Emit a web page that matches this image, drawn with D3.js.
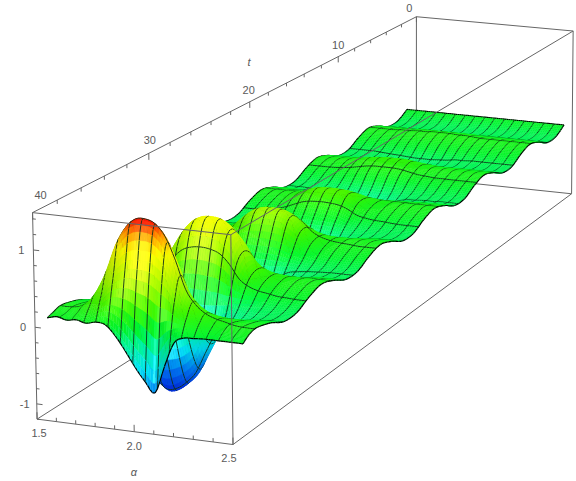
<!DOCTYPE html>
<html><head><meta charset="utf-8">
<script src="https://cdnjs.cloudflare.com/ajax/libs/d3/7.8.5/d3.min.js"></script>
<style>html,body{margin:0;padding:0;background:#fff}svg{display:block}text{font-family:"Liberation Sans",Arial,sans-serif;font-size:11px;fill:#5a5a5a}</style>
</head><body><svg id="c" width="576" height="481"></svg>
<script>
const alphaValues=[1.5,1.55,1.6,1.65,1.7,1.75,1.8,1.85,1.9,1.95,2,2.05,2.1,2.15,2.2,2.25,2.3,2.35,2.4,2.45,2.5];
const tValues=[1.26,2.51,3.77,5.03,6.28,7.54,8.8,10.05,11.31,12.57,13.82,15.08,16.34,17.59,18.85,20.11,21.36,22.62,23.88,25.13,26.39,27.65,28.9,30.16,31.42,32.67,33.93,35.19,36.44,37.8,38.5,39];
const surfaceValues=[
[.03,.03,.03,.03,.03,.03,.03,.03,.03,.03,.03,.03,.03,.03,.03,.03,.03,.03,.03,.03,.03],
[-.07,-.07,-.07,-.07,-.07,-.07,-.08,-.08,-.08,-.08,-.08,-.08,-.07,-.07,-.07,-.07,-.07,-.07,-.07,-.07,-.07],
[-.07,-.07,-.07,-.07,-.07,-.07,-.08,-.08,-.08,-.08,-.08,-.08,-.07,-.07,-.07,-.07,-.07,-.07,-.07,-.07,-.07],
[.03,.03,.03,.03,.03,.03,.04,.04,.04,.04,.04,.04,.04,.03,.03,.03,.03,.03,.03,.03,.03],
[.09,.09,.09,.09,.1,.1,.11,.11,.12,.12,.12,.11,.11,.1,.09,.09,.09,.09,.09,.09,.09],
[.03,.03,.03,.03,.03,.03,.04,.04,.04,.04,.04,.04,.04,.03,.03,.03,.03,.03,.03,.03,.03],
[-.07,-.07,-.07,-.07,-.08,-.09,-.1,-.11,-.12,-.12,-.12,-.11,-.1,-.08,-.08,-.07,-.07,-.07,-.07,-.07,-.07],
[-.07,-.07,-.07,-.07,-.08,-.09,-.11,-.12,-.13,-.135,-.13,-.12,-.1,-.09,-.08,-.08,-.07,-.07,-.07,-.07,-.07],
[.03,.03,.03,.03,.04,.04,.05,.05,.06,.06,.06,.05,.05,.04,.03,.03,.03,.03,.03,.03,.03],
[.09,.09,.09,.1,.11,.13,.16,.18,.19,.19,.19,.18,.15,.12,.11,.1,.1,.09,.09,.09,.09],
[.03,.03,.03,.03,.04,.05,.07,.09,.1,.1,.1,.09,.07,.05,.04,.03,.03,.03,.03,.03,.03],
[-.07,-.07,-.07,-.08,-.09,-.1,-.12,-.14,-.15,-.15,-.15,-.14,-.12,-.1,-.08,-.08,-.07,-.07,-.07,-.07,-.07],
[-.07,-.07,-.07,-.08,-.11,-.15,-.19,-.23,-.25,-.25,-.25,-.23,-.19,-.13,-.1,-.09,-.08,-.08,-.07,-.07,-.07],
[.03,.03,.03,.02,.01,-.02,-.04,-.07,-.08,-.08,-.08,-.07,-.04,-.01,.01,.02,.02,.03,.03,.03,.03],
[.09,.09,.09,.1,.11,.14,.16,.19,.2,.2,.2,.19,.16,.13,.11,.1,.1,.09,.09,.09,.09],
[.03,.03,.04,.05,.09,.14,.21,.27,.29,.3,.29,.27,.21,.12,.08,.06,.05,.04,.03,.03,.03],
[-.07,-.07,-.07,-.06,-.05,-.03,-.01,.01,.02,.02,.02,.01,-.01,-.04,-.05,-.06,-.06,-.07,-.07,-.07,-.07],
[-.07,-.07,-.08,-.09,-.13,-.18,-.25,-.3,-.32,-.33,-.32,-.3,-.24,-.16,-.12,-.1,-.09,-.08,-.07,-.07,-.07],
[.03,.03,.02,0,-.04,-.11,-.19,-.26,-.29,-.3,-.29,-.26,-.19,-.08,-.03,0,.01,.02,.03,.03,.03],
[.09,.09,.1,.11,.14,.19,.25,.29,.32,.32,.32,.29,.24,.17,.13,.11,.1,.1,.09,.09,.09],
[.03,.03,.04,.07,.14,.24,.36,.46,.51,.52,.51,.46,.35,.2,.12,.08,.06,.04,.03,.03,.03],
[-.07,-.07,-.07,-.07,-.07,-.06,-.06,-.05,-.05,-.05,-.05,-.05,-.06,-.06,-.07,-.07,-.07,-.07,-.07,-.07,-.07],
[-.07,-.07,-.08,-.11,-.18,-.27,-.4,-.49,-.54,-.55,-.54,-.49,-.39,-.23,-.16,-.12,-.1,-.08,-.07,-.07,-.07],
[.03,.03,.02,0,-.04,-.11,-.19,-.26,-.29,-.3,-.29,-.26,-.19,-.08,-.03,0,.01,.02,.03,.03,.03],
[.09,.09,.1,.14,.23,.35,.52,.64,.71,.72,.71,.64,.51,.3,.2,.15,.13,.11,.1,.09,.09],
[.03,.03,.05,.09,.2,.35,.55,.71,.78,.8,.78,.71,.54,.29,.17,.11,.08,.05,.04,.03,.03],
[-.07,-.07,-.08,-.1,-.15,-.23,-.33,-.4,-.44,-.45,-.44,-.4,-.32,-.2,-.14,-.11,-.09,-.08,-.07,-.07,-.07],
[-.07,-.07,-.09,-.15,-.3,-.55,-.85,-1.08,-1.18,-1.15,-1.05,-.9,-.62,-.36,-.24,-.17,-.13,-.1,-.08,-.07,-.07],
[.03,.03,.03,.01,-.02,-.07,-.13,-.17,-.2,-.2,-.2,-.17,-.12,-.05,-.01,.01,.02,.02,.03,.03,.03],
[.09,.09,.11,.19,.36,.63,.98,1.2,1.31,1.32,1.27,1.12,.84,.49,.31,.21,.16,.13,.1,.09,.09],
[.06,.06,.07,.12,.21,.35,.55,.68,.74,.74,.72,.63,.48,.27,.18,.13,.1,.08,.07,.06,.06],
[.03,.06,.03,.05,.02,.05,.03,-.1,-.28,-.48,-.65,-.78,-.42,-.1,-.02,-.01,0,0,0,0,0]
];
const alphaTicks=[1.5,1.6,1.7,1.8,1.9,2,2.1,2.2,2.3,2.4,2.5];
const alphaLabels=["1.5","2.0","2.5"];
const tTicks=[0,2,4,6,8,10,12,14,16,18,20,22,24,26,28,30,32,34,36,38,40];
const tLabels=["0","10","20","30","40"];
const zTicks=[-1.2,-1,-.8,-.6,-.4,-.2,0,.2,.4,.6,.8,1,1.2,1.4];
const zLabels=["-1","0","1"];

const ax=d3.scaleLinear([1.5,2.5],[0,1]),ay=d3.scaleLinear([0,40],[0,1]),az=d3.scaleLinear([-1.2,1.48],[0,1]);
const anchors=[[0,0,0,416,178],[1,0,0,572,193],[0,1,0,38,419],[1,1,0,232,445],[0,0,1,416.5,16],[1,0,1,573,32],[0,1,1,32,213],[1,1,1,231.5,234]];
function solveCamera(){
  const A=[],b=[];
  anchors.forEach(([X,Y,Z,u,v])=>{A.push([X,Y,Z,1,0,0,0,0,-u*X,-u*Y,-u*Z]);b.push(u);A.push([0,0,0,0,X,Y,Z,1,-v*X,-v*Y,-v*Z]);b.push(v);});
  const n=11,M=d3.range(n).map(i=>d3.range(n+1).map(j=>j<n?d3.sum(A,r=>r[i]*r[j]):d3.sum(A,(r,k)=>r[i]*b[k])));
  for(let c=0;c<n;c++){let p=c;for(let r=c+1;r<n;r++)if(Math.abs(M[r][c])>Math.abs(M[p][c]))p=r;[M[c],M[p]]=[M[p],M[c]];
    for(let r=0;r<n;r++)if(r!==c){const f=M[r][c]/M[c][c];for(let j=c;j<=n;j++)M[r][j]-=f*M[c][j];}}
  return M.map((r,i)=>r[n]/r[i]);
}
const P=solveCamera();
function proj(a,t,z){const X=ax(a),Y=ay(t),Z=az(z),w=P[8]*X+P[9]*Y+P[10]*Z+1;return[(P[0]*X+P[1]*Y+P[2]*Z+P[3])/w,(P[4]*X+P[5]*Y+P[6]*Z+P[7])/w];}
function cr(p0,p1,p2,p3,s){return .5*(2*p1+(p2-p0)*s+(2*p0-5*p1+4*p2-p3)*s*s+(3*p1-p0-3*p2+p3)*s*s*s);}
function upsample(arr,k){const out=[],n=arr.length;for(let i=0;i<n-1;i++)for(let q=0;q<k;q++)out.push(cr(arr[Math.max(i-1,0)],arr[i],arr[i+1],arr[Math.min(i+2,n-1)],q/k));out.push(arr[n-1]);return out;}
const UA=4,UT=8;
const fineA=upsample(alphaValues,UA),fineT=upsample(tValues,UT);
const rowsA=surfaceValues.map(r=>upsample(r,UA));
const fine=fineT.map(()=>[]);
fineA.forEach((_,i)=>{const col=upsample(rowsA.map(r=>r[i]),UT);col.forEach((v,j)=>fine[j][i]=v);});
const colour=d3.scaleLinear().domain([-1.1,-.8,-.5,-.2,0,.25,.5,.95,1.15,1.32]).range(["#0030d8","#0078f0","#00e0f0","#00f090","#00ee28","#40f000","#98f500","#f8f800","#ff9a00","#f01400"]).clamp(true).interpolate(d3.interpolateRgb);
const items=[],line=d3.line();
const nI=fineA.length-1,nJ=fineT.length-1;
const meshJ=new Set(d3.range(17).map(k=>Math.round(k*nJ/16)));
const MESH="#10301a",EDGE="#000";
for(let j=0;j<nJ;j++)for(let i=0;i<nI;i++){
  const z00=fine[j][i],z10=fine[j][i+1],z01=fine[j+1][i],z11=fine[j+1][i+1];
  const a0=fineA[i],a1=fineA[i+1],t0=fineT[j],t1=fineT[j+1];
  const p00=proj(a0,t0,z00),p10=proj(a1,t0,z10),p01=proj(a0,t1,z01),p11=proj(a1,t1,z11);
  const zm=(z00+z10+z01+z11)/4;
  const dzA=((z10+z11)-(z00+z01))/2/(a1-a0);
  const dzStep=((z01+z11)-(z00+z10))/2*UT;
  const nx=-dzA*.18,nl=Math.hypot(nx,1);
  const lam=(nx*.3+.95)/nl;
  const c=d3.rgb(colour(zm));const f=.86+.16*lam;
  const spec=(zm>-.6?45:0)*Math.min(1,Math.abs(dzStep)/1.2)*Math.exp(-Math.pow(dzA/1.1,2));
  const fill=d3.rgb(Math.min(255,c.r*f+spec),Math.min(255,c.g*f+spec),Math.min(255,c.b*f+spec)).formatHex();
  items.push({d:line([p00,p10,p11,p01])+"Z",fill,stroke:fill,sw:.35});
  if(meshJ.has(j))items.push({d:line([p00,p10]),fill:"none",stroke:j===0?EDGE:MESH,sw:j===0?1.2:.9});
  if(i%5===0)items.push({d:line([p00,p01]),fill:"none",stroke:i===0?EDGE:MESH,sw:i===0?1.2:.9});
  if(j===nJ-1)items.push({d:line([p01,p11]),fill:"none",stroke:EDGE,sw:1.2});
  if(i===nI-1)items.push({d:line([p10,p11]),fill:"none",stroke:EDGE,sw:1.2});
}
const svg=d3.select("#c");
const Amin=1.5,Amax=2.5,Tmin=0,Tmax=40,Zmin=-1.2,Zmax=1.48;
const seg=(g,a,b,w=1)=>g.append("path").attr("d",line([a,b])).attr("stroke","#666").attr("stroke-width",w).attr("fill","none");
const back=svg.append("g");
seg(back,proj(Amin,Tmax,Zmin),proj(Amin,Tmin,Zmin));
seg(back,proj(Amin,Tmin,Zmin),proj(Amax,Tmin,Zmin));
seg(back,proj(Amin,Tmin,Zmin),proj(Amin,Tmin,Zmax));
svg.append("g").selectAll("path").data(items).join("path").attr("d",d=>d.d).attr("fill",d=>d.fill).attr("stroke",d=>d.stroke).attr("stroke-width",d=>d.sw).attr("stroke-linejoin","round");
const front=svg.append("g");
[[[Amin,Tmax,Zmax],[Amin,Tmin,Zmax]],[[Amin,Tmin,Zmax],[Amax,Tmin,Zmax]],[[Amin,Tmax,Zmax],[Amax,Tmax,Zmax]],[[Amax,Tmax,Zmax],[Amax,Tmin,Zmax]],
 [[Amin,Tmax,Zmin],[Amin,Tmax,Zmax]],[[Amax,Tmax,Zmin],[Amax,Tmax,Zmax]],[[Amax,Tmin,Zmin],[Amax,Tmin,Zmax]],
 [[Amin,Tmax,Zmin],[Amax,Tmax,Zmin]],[[Amax,Tmax,Zmin],[Amax,Tmin,Zmin]]].forEach(([a,b])=>seg(front,proj(...a),proj(...b)));
alphaTicks.forEach((a,i)=>{const M=i%5===0;seg(front,proj(a,Tmax,Zmin),proj(a,Tmax,Zmin+(M?.09:.05)));});
tTicks.forEach((t,i)=>{const M=i%5===0;seg(front,proj(Amin,t,Zmax),proj(Amin,t,Zmax-(M?.09:.05)));});
zTicks.forEach(z=>{const M=Math.abs(z-Math.round(z))<1e-6;seg(front,proj(Amin,Tmax,z),proj(Amin+(M?.03:.016),Tmax,z));});
const txt=(s,x,y,it)=>front.append("text").attr("x",x).attr("y",y).attr("text-anchor","middle").attr("font-style",it?"italic":null).text(s);
const aOff=[[2,18],[0,18],[-4,17]];
alphaLabels.forEach((s,i)=>{const p=proj(+s,Tmax,Zmin);txt(s,p[0]+aOff[i][0],p[1]+aOff[i][1]);});
zLabels.forEach(s=>{const p=proj(Amin,Tmax,+s);txt(s,p[0]-12,p[1]+4);});
const tOff=[[-7,-5],[0,-8],[-1,-8],[1,-9],[8,-14]];
tLabels.forEach((s,i)=>{const p=proj(Amin,+s,Zmax);txt(s,p[0]+tOff[i][0],p[1]+tOff[i][1]);});
txt("t",249,66,true);txt("α",134,476,true);
</script></body></html>
